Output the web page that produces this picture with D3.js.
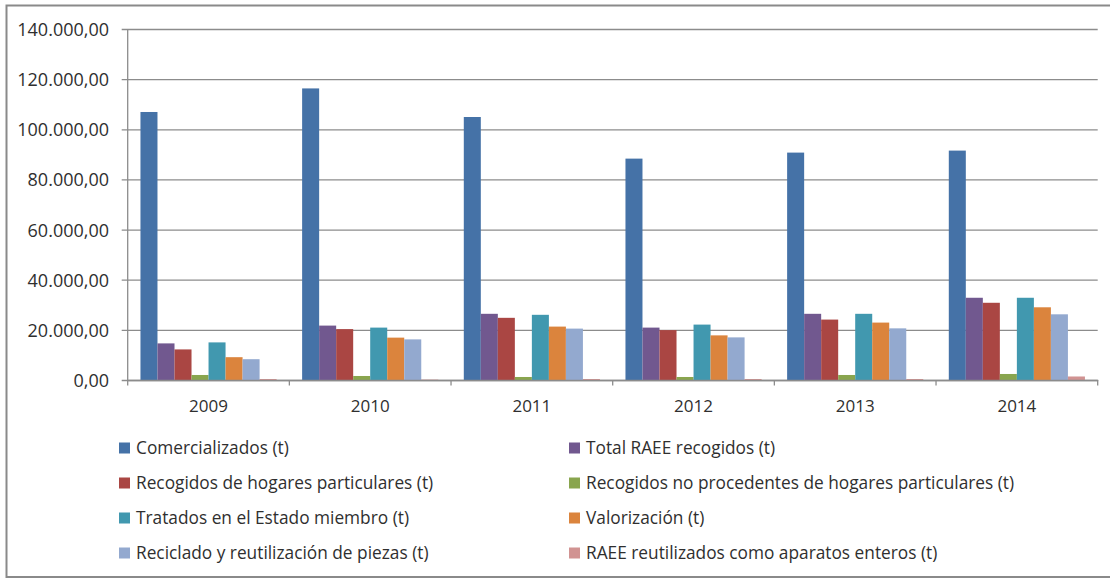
<html>
<head>
    <meta charset="utf-8">
    <title>RAEE 2009-2014</title>
</head>
<body style="margin: 0; background: #fff;">
    <svg></svg>
</body>

<script src="https://cdn.jsdelivr.net/npm/d3@7"></script>
<script>
const width = 1110;
const height = 578;

// categories and series (t)
const years = ['2009', '2010', '2011', '2012', '2013', '2014'];
const seriesNames = [
    'Comercializados (t)',
    'Total RAEE recogidos (t)',
    'Recogidos de hogares particulares (t)',
    'Recogidos no procedentes de hogares particulares (t)',
    'Tratados en el Estado miembro (t)',
    'Valorización (t)',
    'Reciclado y reutilización de piezas (t)',
    'RAEE reutilizados como aparatos enteros (t)'
];
const comercializados = [106900, 116300, 104900, 88300, 90700, 91500];
const totalRecogidos  = [14600, 21700, 26400, 20900, 26400, 32800];
const recogHogares    = [12200, 20300, 24800, 19900, 24100, 30800];
const recogNoHogares  = [2000, 1600, 1200, 1200, 2000, 2400];
const tratados        = [15000, 20900, 26000, 22100, 26400, 32800];
const valorizacion    = [9100, 16900, 21300, 17800, 22900, 29000];
const reciclado       = [8300, 16200, 20500, 17000, 20600, 26200];
const reutilizados    = [400, 150, 400, 400, 400, 1400];
const seriesValues = [comercializados, totalRecogidos, recogHogares, recogNoHogares,
    tratados, valorizacion, reciclado, reutilizados];
const colors = ['#4572A7', '#71588F', '#AA4643', '#89A54E', '#4198AF', '#DB843D', '#93A9CF', '#D19392'];
const yTicks = [0, 20000, 40000, 60000, 80000, 100000, 120000, 140000];

const font = "'Open Sans', sans-serif";
const textColor = '#2f2f2f';
const gridColor = '#8c8c8c';

const svg = d3.select('svg')
    .attr('width', width)
    .attr('height', height)
    .style('font-family', font);

// chart frame
svg.append('rect')
    .attr('x', 6.5).attr('y', 5.5)
    .attr('width', width).attr('height', height - 6.5)
    .attr('fill', '#fff')
    .attr('stroke', '#8a8a8a')
    .attr('stroke-width', 2);

const plot = { left: 127.7, right: 1097.7, top: 29, bottom: 380 };

const x = d3.scaleBand()
    .domain(years)
    .range([plot.left, plot.right]);

const xInner = d3.scaleBand()
    .domain(d3.range(seriesNames.length))
    .range([0, x.bandwidth()])
    .paddingOuter(0.75);

const y = d3.scaleLinear()
    .domain([0, 140000])
    .range([plot.bottom, plot.top]);

const fmt = v => d3.format(',.2f')(v).replace(/,/g, '#').replace('.', ',').replace(/#/g, '.');

// y axis with gridlines
const yAxis = svg.append('g')
    .attr('transform', `translate(${plot.left},0)`)
    .call(d3.axisLeft(y)
        .tickValues(yTicks)
        .tickSize(-(plot.right - plot.left))
        .tickFormat(fmt));
yAxis.select('.domain').remove();
yAxis.selectAll('.tick line')
    .attr('stroke', gridColor)
    .attr('stroke-width', 1.3)
    .attr('x2', plot.right - plot.left)
    .attr('x1', -6);
yAxis.selectAll('.tick text')
    .attr('x', -18.7)
    .attr('dy', '0.36em')
    .attr('fill', textColor)
    .style('font-size', '18px')
    .style('font-family', font);

// bars
const groups = svg.append('g')
    .selectAll('g')
    .data(years)
    .join('g')
    .attr('transform', d => `translate(${x(d)},0)`);

groups.selectAll('rect')
    .data((d, i) => seriesValues.map((s, k) => ({ k: k, v: s[i] })))
    .join('rect')
    .attr('x', d => xInner(d.k))
    .attr('width', xInner.bandwidth())
    .attr('y', d => y(d.v))
    .attr('height', d => y(0) - y(d.v))
    .attr('fill', d => colors[d.k]);

// vertical axis line
svg.append('line')
    .attr('x1', plot.left).attr('x2', plot.left)
    .attr('y1', plot.top).attr('y2', plot.bottom)
    .attr('stroke', gridColor)
    .attr('stroke-width', 1.3);

// x axis
const xAxis = svg.append('g')
    .attr('transform', `translate(0,${plot.bottom})`)
    .call(d3.axisBottom(x).tickSize(0).tickSizeOuter(0));
xAxis.select('.domain')
    .attr('stroke', gridColor)
    .attr('stroke-width', 1.3);
xAxis.selectAll('.tick text')
    .attr('y', 26)
    .attr('dy', '0.36em')
    .attr('fill', textColor)
    .style('font-size', '17px')
    .style('font-family', font);

// separator ticks between categories
svg.append('g')
    .selectAll('line')
    .data(years.concat(['end']))
    .join('line')
    .attr('x1', (d, i) => i < years.length ? x(d) : x(years[years.length - 1]) + x.bandwidth())
    .attr('x2', (d, i) => i < years.length ? x(d) : x(years[years.length - 1]) + x.bandwidth())
    .attr('y1', plot.bottom)
    .attr('y2', plot.bottom + 5.5)
    .attr('stroke', gridColor)
    .attr('stroke-width', 1.3);

// legend, two columns
const legendCols = [119, 569];
const legendRows = [448, 483, 518, 553];
const legend = svg.append('g')
    .selectAll('g')
    .data(seriesNames)
    .join('g')
    .attr('transform', (d, i) => `translate(${legendCols[i % 2]},${legendRows[Math.floor(i / 2)]})`);

legend.append('rect')
    .attr('x', 0).attr('y', -5.5)
    .attr('width', 11).attr('height', 11)
    .attr('fill', (d, i) => colors[i]);

legend.append('text')
    .attr('x', 17)
    .attr('dy', '0.36em')
    .attr('fill', textColor)
    .style('font-size', '17.3px')
    .text(d => d);
</script>
</html>
